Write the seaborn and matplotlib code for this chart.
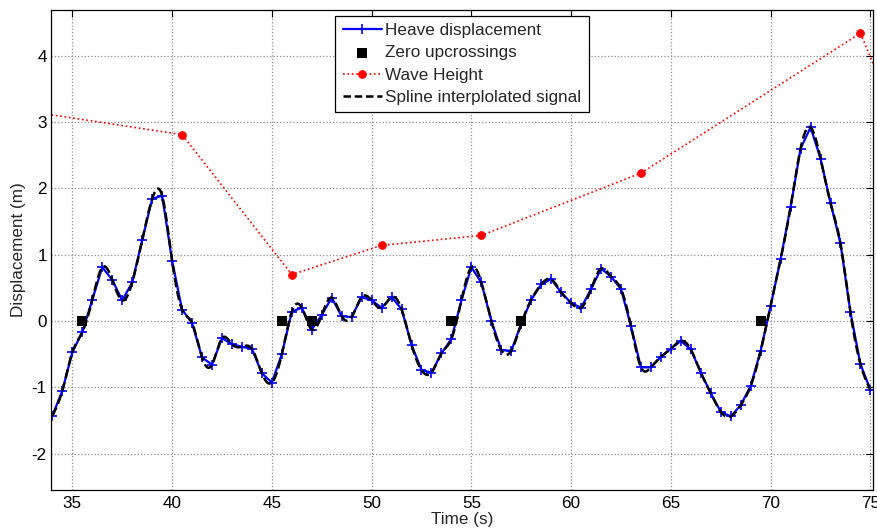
import numpy as np
import matplotlib
matplotlib.use("Agg")
import matplotlib.pyplot as plt
import seaborn as sns

# Heave record, sampled every 0.5 s from t = 34 s
heave = [
    -1.43, -1.05, -0.47, -0.17, 0.32, 0.81, 0.62, 0.31, 0.58, 1.22,
    1.84, 1.89, 0.91, 0.17, -0.03, -0.55, -0.66, -0.26, -0.35, -0.39,
    -0.42, -0.79, -0.93, -0.50, 0.14, 0.20, -0.13, 0.09, 0.35, 0.07,
    0.06, 0.36, 0.31, 0.20, 0.36, 0.18, -0.36, -0.74, -0.78, -0.49,
    -0.27, 0.31, 0.81, 0.58, 0.00, -0.44, -0.45, -0.04, 0.32, 0.55,
    0.63, 0.43, 0.27, 0.20, 0.48, 0.79, 0.67, 0.48, -0.08, -0.70,
    -0.70, -0.54, -0.42, -0.30, -0.43, -0.78, -1.09, -1.37, -1.44, -1.27,
    -0.98, -0.45, 0.23, 0.93, 1.72, 2.60, 2.92, 2.45, 1.78, 1.17,
    0.13, -0.65, -1.04,
]
time = 34.0 + 0.5 * np.arange(len(heave))

# Zero upcrossing instants
upcross_t = [35.5, 45.5, 47.0, 54.0, 57.5, 69.5]
upcross_v = [0.0, 0.0, 0.0, 0.0, 0.0, 0.0]

# Individual wave heights, plotted at the middle of each wave
wave_t = [30.0, 40.5, 46.0, 50.5, 55.5, 63.5, 74.5, 79.5]
wave_h = [3.29, 2.81, 0.70, 1.14, 1.29, 2.23, 4.34, 0.75]

x_ticks = [35, 40, 45, 50, 55, 60, 65, 70, 75]
y_ticks = [-2, -1, 0, 1, 2, 3, 4]


def cubic_spline(x, y, xs):
    """Natural cubic spline through (x, y), evaluated at xs."""
    x = np.asarray(x, float)
    y = np.asarray(y, float)
    n = len(x)
    h = np.diff(x)
    A = np.zeros((n, n))
    b = np.zeros(n)
    A[0, 0] = A[-1, -1] = 1.0
    for i in range(1, n - 1):
        A[i, i - 1] = h[i - 1]
        A[i, i] = 2.0 * (h[i - 1] + h[i])
        A[i, i + 1] = h[i]
        b[i] = 3.0 * ((y[i + 1] - y[i]) / h[i] - (y[i] - y[i - 1]) / h[i - 1])
    c = np.linalg.solve(A, b)
    bc = (y[1:] - y[:-1]) / h - h * (2.0 * c[:-1] + c[1:]) / 3.0
    d = (c[1:] - c[:-1]) / (3.0 * h)
    idx = np.clip(np.searchsorted(x, xs) - 1, 0, n - 2)
    dx = xs - x[idx]
    return y[idx] + bc[idx] * dx + c[idx] * dx ** 2 + d[idx] * dx ** 3


fine_t = np.linspace(time[0], time[-1], 2000)
spline_v = cubic_spline(time, heave, fine_t)

sns.set_style("white")
plt.rcParams["font.family"] = ["Liberation Sans", "DejaVu Sans"]
FS = 12.3

fig, ax = plt.subplots(figsize=(8.77, 5.31), dpi=100)
fig.subplots_adjust(left=51 / 877, right=873 / 877, bottom=41 / 531, top=521 / 531)

sns.lineplot(x=time, y=heave, ax=ax, color="#0000ff", linewidth=1.6,
             marker="+", markersize=7.5, markeredgewidth=1.2,
             markeredgecolor="#0000ff",
             label="Heave displacement", errorbar=None, sort=False)
sns.scatterplot(x=upcross_t, y=upcross_v, ax=ax, marker="s", s=42,
                color="black", edgecolor="black", linewidth=0,
                label="Zero upcrossings", zorder=4)
sns.lineplot(x=wave_t, y=wave_h, ax=ax, color="red", linestyle=":",
             linewidth=1.2, marker="o", markersize=5.5, markeredgecolor="red",
             label="Wave Height", errorbar=None, sort=False)
sns.lineplot(x=fine_t, y=spline_v, ax=ax, color="black", linestyle="--",
             dashes=(4, 1.5), linewidth=1.8,
             label="Spline interplolated signal", errorbar=None, sort=False)

ax.set_xlim(33.93, 75.13)
ax.set_ylim(-2.55, 4.69)
ax.set_xticks(x_ticks)
ax.set_yticks(y_ticks)
ax.set_xticklabels([str(v) for v in x_ticks])
ax.set_yticklabels([str(v) for v in y_ticks])

ax.grid(True, linestyle=":", color="0.55", linewidth=0.9)
ax.tick_params(direction="in", top=True, right=True, length=5, width=0.8,
               labelsize=FS, colors="black")
ax.tick_params(axis="x", pad=4)
ax.tick_params(axis="y", pad=3)
for s in ax.spines.values():
    s.set_visible(True)
    s.set_color("black")
    s.set_linewidth(0.9)

ax.set_xlabel("Time (s)", fontsize=FS, labelpad=1)
ax.set_ylabel("Displacement (m)", fontsize=FS, labelpad=4)

leg = ax.legend(loc="upper center", bbox_to_anchor=(0.5, 0.9875),
                borderaxespad=0, frameon=True, fancybox=False,
                edgecolor="black", framealpha=1, fontsize=FS,
                handlelength=2.3, handletextpad=0.2, labelspacing=0.42,
                borderpad=0.42, scatterpoints=1, numpoints=1)
leg.get_frame().set_linewidth(0.9)
# legend sample of the spline uses evenly spaced dashes
leg.get_lines()[-1].set_dashes((3, 1.5))

fig.savefig("out.png", dpi=100, facecolor="white")
